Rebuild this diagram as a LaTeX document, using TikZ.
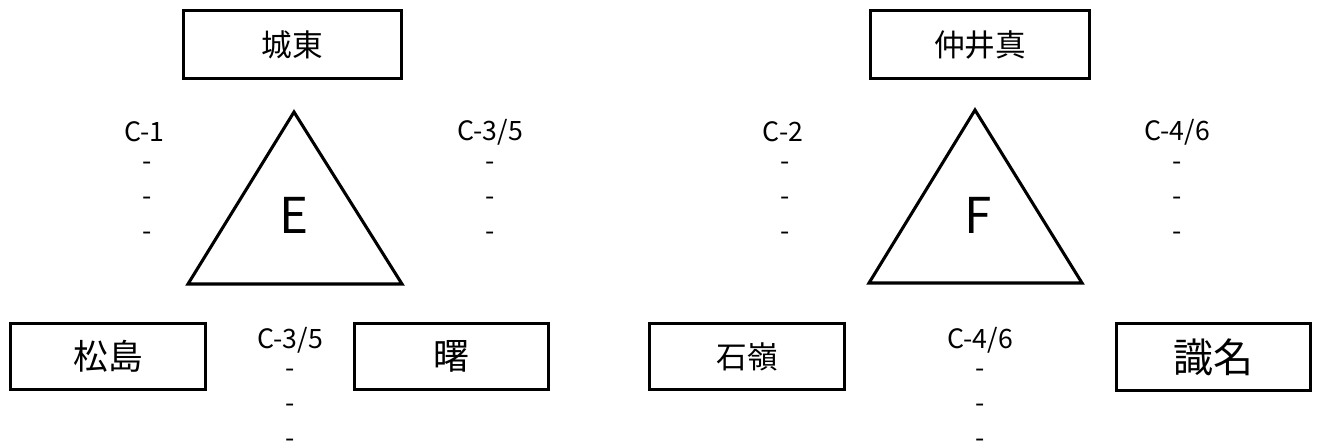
\documentclass[tikz,border=0pt]{standalone}
\usepackage{fontspec}
\setmainfont{Noto Sans CJK JP}
\usetikzlibrary{positioning}

\tikzset{
	station/.style = {draw, line width = 2.3pt, inner sep = 0pt},
	topbox/.style = {station, minimum width = 164pt, minimum height = 51pt},
	lowbox/.style = {station, minimum width = 146pt, minimum height = 50pt},
	track/.style = {inner sep = 0pt, font = \fontsize{20}{20}\selectfont},
	tick/.style = {inner sep = 0pt, font = \fontsize{20}{20}\selectfont},
	zone/.style = {inner sep = 0pt, font = \fontsize{37}{37}\selectfont},
	edge/.style = {line width = 2.3pt, line join = miter}
}

\begin{document}
\begin{tikzpicture}[x = 0.75pt, y = -0.75pt]
	\useasboundingbox (0, 0) rectangle (1320, 448);

	% Nodes
	\node[topbox, font = \fontsize{23}{23}\selectfont] (joto) at (292.5, 44.5) {城東};
	\node[topbox, font = \fontsize{23}{23}\selectfont] (nakaima) at (980, 44.5) {仲井真};

	\node[lowbox, font = \fontsize{26}{26}\selectfont] (matsushima) at (108, 356.5) {松島};
	\node[lowbox, font = \fontsize{27}{27}\selectfont] (akebono) at (451.5, 356.5) {曙};
	\node[lowbox, font = \fontsize{23}{23}\selectfont] (ishimine) at (747, 356.5) {石嶺};
	\node[lowbox, font = \fontsize{30}{30}\selectfont] (shikina) at (1213.5, 357) {識名};

	% Triangles
	\coordinate (e-top) at (294, 112);
	\coordinate (e-left) at (188, 284);
	\coordinate (e-right) at (402, 284);
	\draw[edge] (e-top) -- (e-left) -- (e-right) -- cycle;
	\node[zone] (e) at (294, 215) {E};

	\coordinate (f-top) at (975, 110);
	\coordinate (f-left) at (869, 283);
	\coordinate (f-right) at (1082, 283);
	\draw[edge] (f-top) -- (f-left) -- (f-right) -- cycle;
	\node[zone] (f) at (978, 215) {F};

	% Track labels
	\node[track] (c1) at (144.5, 132) {C-1};
	\node[tick] (c1a) at (147, 166) {-};
	\node[tick] (c1b) at (147, 201) {-};
	\node[tick] (c1c) at (147, 236) {-};

	\node[track] (c35) at (490, 132) {C-3/5};
	\node[tick] (c35a) at (490, 166) {-};
	\node[tick] (c35b) at (490, 201) {-};
	\node[tick] (c35c) at (490, 236) {-};

	\node[track] (c2) at (783, 132) {C-2};
	\node[tick] (c2a) at (785, 166) {-};
	\node[tick] (c2b) at (785, 201) {-};
	\node[tick] (c2c) at (785, 236) {-};

	\node[track] (c46) at (1177, 132) {C-4/6};
	\node[tick] (c46a) at (1177, 166) {-};
	\node[tick] (c46b) at (1177, 201) {-};
	\node[tick] (c46c) at (1177, 236) {-};

	\node[track] (c35low) at (290, 340) {C-3/5};
	\node[tick] (c35lowa) at (290, 373) {-};
	\node[tick] (c35lowb) at (290, 408) {-};
	\node[tick] (c35lowc) at (290, 443) {-};

	\node[track] (c46low) at (980, 340) {C-4/6};
	\node[tick] (c46lowa) at (980, 373) {-};
	\node[tick] (c46lowb) at (980, 408) {-};
	\node[tick] (c46lowc) at (980, 443) {-};
\end{tikzpicture}
\end{document}
